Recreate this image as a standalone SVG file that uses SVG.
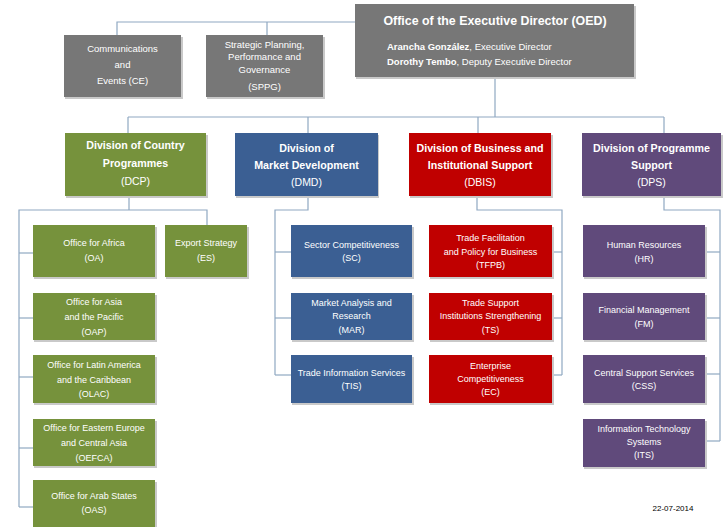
<svg xmlns="http://www.w3.org/2000/svg" width="724" height="527" viewBox="0 0 724 527">
  <style>
    text { font-family: "Liberation Sans", Arial, sans-serif; fill: #ffffff; text-anchor: middle; }
    .t { font-size: 9px; }
    .g { font-size: 9.5px; }
    .h { font-size: 10.7px; font-weight: bold; }
    .hc { font-size: 10.5px; }
    .gray { fill: #777777; }
    .green { fill: #76923c; }
    .blue { fill: #3b5f93; }
    .red { fill: #c00000; }
    .purple { fill: #604a7b; }
    .shadow { fill: #c9c9c9; }
    .conn { fill: none; stroke: #8fa8c2; stroke-width: 1.2; }
  </style>

  <!-- connectors -->
  <g id="connectors" class="conn">
    <!-- executive office to CE / SPPG -->
    <polyline points="117,35 117,22 355,22"/>
    <line x1="267" y1="22" x2="267" y2="35"/>
    <!-- executive office to divisions -->
    <line x1="495" y1="77" x2="495" y2="117"/>
    <line x1="128" y1="117" x2="664" y2="117"/>
    <line x1="128" y1="117" x2="128" y2="133"/>
    <line x1="308" y1="117" x2="308" y2="133"/>
    <line x1="478" y1="117" x2="478" y2="133"/>
    <line x1="664" y1="117" x2="664" y2="133"/>
    <!-- DCP -->
    <polyline points="129,196 129,210"/>
    <polyline points="19,507 19,210 207,210 207,225"/>
    <line x1="19" y1="253" x2="33" y2="253"/>
    <line x1="19" y1="318" x2="33" y2="318"/>
    <line x1="19" y1="377" x2="33" y2="377"/>
    <line x1="19" y1="448" x2="33" y2="448"/>
    <line x1="19" y1="507" x2="33" y2="507"/>
    <!-- DMD -->
    <polyline points="308,196 308,210 275,210 275,375"/>
    <line x1="275" y1="252" x2="291" y2="252"/>
    <line x1="275" y1="318" x2="291" y2="318"/>
    <line x1="275" y1="375" x2="291" y2="375"/>
    <!-- DBIS -->
    <polyline points="477,196 477,210 562,210 562,375"/>
    <line x1="552" y1="252" x2="562" y2="252"/>
    <line x1="552" y1="318" x2="562" y2="318"/>
    <line x1="552" y1="375" x2="562" y2="375"/>
    <!-- DPS -->
    <polyline points="664,196 664,210 720,210 720,441"/>
    <line x1="705" y1="252" x2="720" y2="252"/>
    <line x1="705" y1="318" x2="720" y2="318"/>
    <line x1="705" y1="374" x2="720" y2="374"/>
    <line x1="705" y1="441" x2="720" y2="441"/>
  </g>

  <!-- executive office -->
  <g id="oed">
    <rect class="shadow" x="356" y="6" width="280" height="73"/>
    <rect class="gray" x="355" y="4" width="279" height="73"/>
    <text class="h" x="495" y="25" style="font-size:12.4px">Office of the Executive Director (OED)</text>
    <text x="387" y="50" style="font-size:9.5px;text-anchor:start"><tspan font-weight="bold">Arancha González</tspan>, Executive Director</text>
    <text x="387" y="65" style="font-size:9.5px;text-anchor:start"><tspan font-weight="bold">Dorothy Tembo</tspan>, Deputy Executive Director</text>
  </g>

  <g id="ce">
    <rect class="shadow" x="65" y="37" width="118" height="62"/>
    <rect class="gray" x="64" y="35" width="117" height="62"/>
    <text class="g" x="122.5" y="52">Communications</text>
    <text class="g" x="122.5" y="68">and</text>
    <text class="g" x="122.5" y="84">Events (CE)</text>
  </g>

  <g id="sppg">
    <rect class="shadow" x="207" y="37" width="118" height="62"/>
    <rect class="gray" x="206" y="35" width="117" height="62"/>
    <text class="g" x="264.5" y="48">Strategic Planning,</text>
    <text class="g" x="264.5" y="60">Performance and</text>
    <text class="g" x="264.5" y="73">Governance</text>
    <text class="g" x="264.5" y="90">(SPPG)</text>
  </g>

  <!-- divisions -->
  <g id="dcp">
    <rect class="shadow" x="66" y="135" width="142" height="63"/>
    <rect class="green" x="65" y="133" width="141" height="63"/>
    <text class="h" x="135.5" y="149">Division of Country</text>
    <text class="h" x="135.5" y="167">Programmes</text>
    <text class="hc" x="135.5" y="185">(DCP)</text>
  </g>

  <g id="dmd">
    <rect class="shadow" x="236" y="135" width="143" height="63"/>
    <rect class="blue" x="235" y="133" width="143" height="63"/>
    <text class="h" x="306.5" y="152">Division of</text>
    <text class="h" x="306.5" y="169">Market Development</text>
    <text class="hc" x="306.5" y="186">(DMD)</text>
  </g>

  <g id="dbis">
    <rect class="shadow" x="410" y="135" width="143" height="63"/>
    <rect class="red" x="409" y="133" width="142" height="63"/>
    <text class="h" x="480" y="152">Division of Business and</text>
    <text class="h" x="480" y="169">Institutional Support</text>
    <text class="hc" x="480" y="186">(DBIS)</text>
  </g>

  <g id="dps">
    <rect class="shadow" x="583" y="135" width="140" height="63"/>
    <rect class="purple" x="582" y="133" width="139" height="63"/>
    <text class="h" x="651.5" y="152">Division of Programme</text>
    <text class="h" x="651.5" y="169">Support</text>
    <text class="hc" x="651.5" y="186">(DPS)</text>
  </g>

  <!-- country programmes offices -->
  <g id="oa">
    <rect class="shadow" x="34" y="227" width="123" height="52"/>
    <rect class="green" x="33" y="225" width="122" height="52"/>
    <text class="t" x="94" y="246">Office for Africa</text>
    <text class="t" x="94" y="261">(OA)</text>
  </g>
  <g id="es">
    <rect class="shadow" x="166" y="227" width="83" height="52"/>
    <rect class="green" x="165" y="225" width="82" height="52"/>
    <text class="t" x="206" y="246">Export Strategy</text>
    <text class="t" x="206" y="261">(ES)</text>
  </g>
  <g id="oap">
    <rect class="shadow" x="34" y="295" width="123" height="47"/>
    <rect class="green" x="33" y="293" width="122" height="47"/>
    <text class="t" x="94" y="305">Office for Asia</text>
    <text class="t" x="94" y="320">and the Pacific</text>
    <text class="t" x="94" y="335">(OAP)</text>
  </g>
  <g id="olac">
    <rect class="shadow" x="34" y="357" width="123" height="48"/>
    <rect class="green" x="33" y="355" width="122" height="48"/>
    <text class="t" x="94" y="368">Office for Latin America</text>
    <text class="t" x="94" y="383">and the Caribbean</text>
    <text class="t" x="94" y="397">(OLAC)</text>
  </g>
  <g id="oefca">
    <rect class="shadow" x="34" y="421" width="123" height="47"/>
    <rect class="green" x="33" y="419" width="122" height="47"/>
    <text class="t" x="94" y="431">Office for Eastern Europe</text>
    <text class="t" x="94" y="446">and Central Asia</text>
    <text class="t" x="94" y="461">(OEFCA)</text>
  </g>
  <g id="oas">
    <rect class="shadow" x="34" y="482" width="123" height="47"/>
    <rect class="green" x="33" y="480" width="122" height="47"/>
    <text class="t" x="94" y="499">Office for Arab States</text>
    <text class="t" x="94" y="513">(OAS)</text>
  </g>

  <!-- market development sections -->
  <g id="sc">
    <rect class="shadow" x="292" y="227" width="122" height="52"/>
    <rect class="blue" x="291" y="225" width="121" height="52"/>
    <text class="t" x="351.5" y="248">Sector Competitiveness</text>
    <text class="t" x="351.5" y="261">(SC)</text>
  </g>
  <g id="mar">
    <rect class="shadow" x="292" y="295" width="122" height="47"/>
    <rect class="blue" x="291" y="293" width="121" height="47"/>
    <text class="t" x="351.5" y="306">Market Analysis and</text>
    <text class="t" x="351.5" y="319">Research</text>
    <text class="t" x="351.5" y="333">(MAR)</text>
  </g>
  <g id="tis">
    <rect class="shadow" x="292" y="357" width="122" height="48"/>
    <rect class="blue" x="291" y="355" width="121" height="48"/>
    <text class="t" x="351.5" y="376">Trade Information Services</text>
    <text class="t" x="351.5" y="389">(TIS)</text>
  </g>

  <!-- business and institutional support sections -->
  <g id="tfpb">
    <rect class="shadow" x="430" y="227" width="124" height="52"/>
    <rect class="red" x="429" y="225" width="123" height="52"/>
    <text class="t" x="490.5" y="241">Trade Facilitation</text>
    <text class="t" x="490.5" y="255">and Policy for Business</text>
    <text class="t" x="490.5" y="268">(TFPB)</text>
  </g>
  <g id="ts">
    <rect class="shadow" x="430" y="295" width="124" height="47"/>
    <rect class="red" x="429" y="293" width="123" height="47"/>
    <text class="t" x="490.5" y="306">Trade Support</text>
    <text class="t" x="490.5" y="319">Institutions Strengthening</text>
    <text class="t" x="490.5" y="333">(TS)</text>
  </g>
  <g id="ec">
    <rect class="shadow" x="430" y="357" width="124" height="48"/>
    <rect class="red" x="429" y="355" width="123" height="48"/>
    <text class="t" x="490.5" y="369">Enterprise</text>
    <text class="t" x="490.5" y="382">Competitiveness</text>
    <text class="t" x="490.5" y="395">(EC)</text>
  </g>

  <!-- programme support sections -->
  <g id="hr">
    <rect class="shadow" x="584" y="227" width="123" height="52"/>
    <rect class="purple" x="583" y="225" width="122" height="52"/>
    <text class="t" x="644" y="248">Human Resources</text>
    <text class="t" x="644" y="262">(HR)</text>
  </g>
  <g id="fm">
    <rect class="shadow" x="584" y="295" width="123" height="47"/>
    <rect class="purple" x="583" y="293" width="122" height="47"/>
    <text class="t" x="644" y="313">Financial Management</text>
    <text class="t" x="644" y="327">(FM)</text>
  </g>
  <g id="css">
    <rect class="shadow" x="584" y="357" width="123" height="48"/>
    <rect class="purple" x="583" y="355" width="122" height="48"/>
    <text class="t" x="644" y="376">Central Support Services</text>
    <text class="t" x="644" y="389">(CSS)</text>
  </g>
  <g id="its">
    <rect class="shadow" x="584" y="421" width="123" height="48"/>
    <rect class="purple" x="583" y="419" width="122" height="48"/>
    <text class="t" x="644" y="432">Information Technology</text>
    <text class="t" x="644" y="445">Systems</text>
    <text class="t" x="644" y="458">(ITS)</text>
  </g>

  <text x="673" y="511" style="font-size:8px;fill:#000000">22-07-2014</text>
</svg>
